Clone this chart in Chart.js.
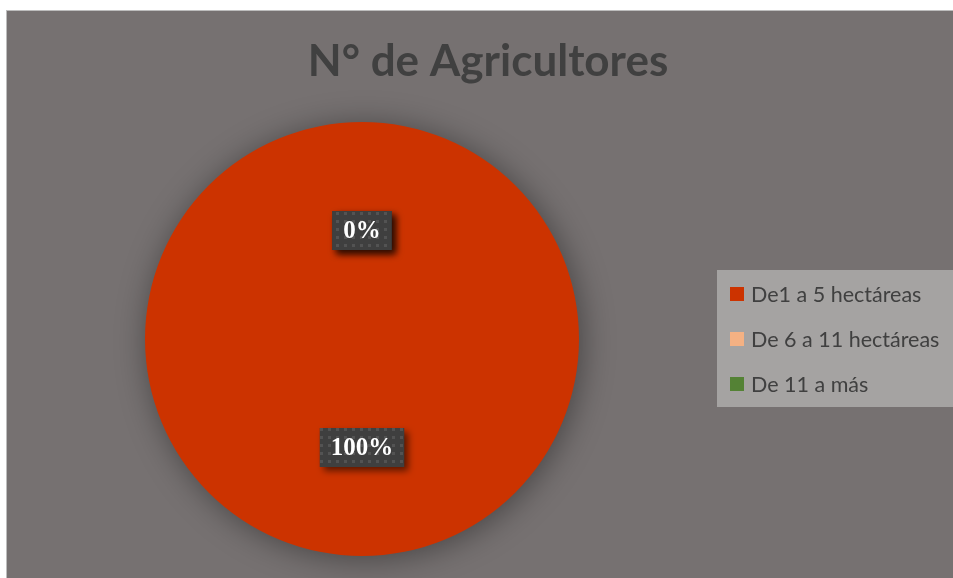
<!DOCTYPE html>
<html>
<head>
<meta charset="utf-8">
<script src="https://cdn.jsdelivr.net/npm/chart.js@4.4.1/dist/chart.umd.min.js"></script>
<style>
  html, body { margin: 0; padding: 0; background: #ffffff; }
  #wrap {
    position: absolute; left: 6px; top: 10px;
    width: 947px; height: 568px;
    background: #767171;
    box-shadow: inset 1px 1px 0 #bdbdbd;
  }
  canvas { display: block; }
</style>
</head>
<body>
<div id="wrap"><canvas id="grafica" width="947" height="568"></canvas></div>
<script>
// datos del grafico
const titulo = 'N° de Agricultores';
const categorias = ['De1 a 5 hectáreas', 'De 6 a 11 hectáreas', 'De 11 a más'];
const valores = [100, 0, 0];
const colores = ['#CC3300', '#F4B183', '#548235'];

// patron de puntos para las etiquetas
function crearPatron(ctx) {
    const c = document.createElement('canvas');
    c.width = 8; c.height = 8;
    const p = c.getContext('2d');
    p.fillStyle = '#3f3f3f';
    p.fillRect(0, 0, 8, 8);
    p.fillStyle = '#535353';
    p.fillRect(2, 2, 3, 3);
    return ctx.createPattern(c, 'repeat');
}

// sombra del pastel
const sombraPastel = {
    id: 'sombraPastel',
    beforeDatasetsDraw(chart) {
        const ctx = chart.ctx;
        ctx.save();
        ctx.shadowColor = 'rgba(0,0,0,0.4)';
        ctx.shadowBlur = 32;
        ctx.shadowOffsetX = 3;
        ctx.shadowOffsetY = 3;
    },
    afterDatasetsDraw(chart) {
        chart.ctx.restore();
    }
};

// titulo dibujado a mano para centrarlo en todo el lienzo
const tituloPlugin = {
    id: 'tituloPlugin',
    afterDraw(chart) {
        const ctx = chart.ctx;
        ctx.save();
        ctx.font = 'bold 44px Lato, "Open Sans", sans-serif';
        ctx.fillStyle = '#404040';
        ctx.textAlign = 'center';
        ctx.textBaseline = 'middle';
        ctx.fillText(titulo, 482, 52);
        ctx.restore();
    }
};

// etiquetas de porcentaje
const etiquetas = {
    id: 'etiquetas',
    afterDatasetsDraw(chart) {
        const ctx = chart.ctx;
        const meta = chart.getDatasetMeta(0);
        const total = valores.reduce((a, b) => a + b, 0);
        const patron = crearPatron(ctx);
        ctx.save();
        ctx.font = 'bold 25px "Liberation Serif", serif';
        ctx.textAlign = 'center';
        ctx.textBaseline = 'middle';
        meta.data.forEach((arc, i) => {
            const pos = arc.getCenterPoint();
            const txt = Math.round(valores[i] / total * 100) + '%';
            const w = ctx.measureText(txt).width + 22;
            const h = 39;
            ctx.save();
            ctx.shadowColor = 'rgba(0,0,0,0.55)';
            ctx.shadowBlur = 7;
            ctx.shadowOffsetX = 4;
            ctx.shadowOffsetY = 4;
            ctx.fillStyle = patron;
            ctx.fillRect(pos.x - w / 2, pos.y - h / 2, w, h);
            ctx.restore();
            ctx.fillStyle = '#ffffff';
            ctx.fillText(txt, pos.x, pos.y + 1);
        });
        ctx.restore();
    }
};

// leyenda con fondo claro
const leyenda = {
    id: 'leyenda',
    afterDraw(chart) {
        const ctx = chart.ctx;
        const x0 = 711, y0 = 260, ancho = 236, alto = 137;
        ctx.save();
        ctx.fillStyle = '#a5a3a2';
        ctx.fillRect(x0, y0, ancho, alto);
        ctx.font = '21.5px Lato, "Open Sans", sans-serif';
        ctx.textBaseline = 'middle';
        const ds = chart.data.datasets[0];
        chart.data.labels.forEach((lab, i) => {
            const y = y0 + 24 + i * 45;
            ctx.fillStyle = ds.backgroundColor[i];
            ctx.fillRect(x0 + 13, y - 7, 14, 14);
            ctx.fillStyle = '#404040';
            ctx.fillText(lab, x0 + 34, y + 1);
        });
        ctx.restore();
    }
};

new Chart(document.getElementById('grafica'), {
    type: 'pie',
    data: {
        labels: categorias,
        datasets: [{
            data: valores,
            backgroundColor: colores,
            borderWidth: 0
        }]
    },
    options: {
        responsive: false,
        animation: false,
        layout: { padding: { left: 139, right: 374, top: 112, bottom: 22 } },
        plugins: {
            legend: { display: false },
            title: { display: false },
            tooltip: { enabled: false }
        }
    },
    plugins: [sombraPastel, etiquetas, tituloPlugin, leyenda]
});
</script>
</body>
</html>
